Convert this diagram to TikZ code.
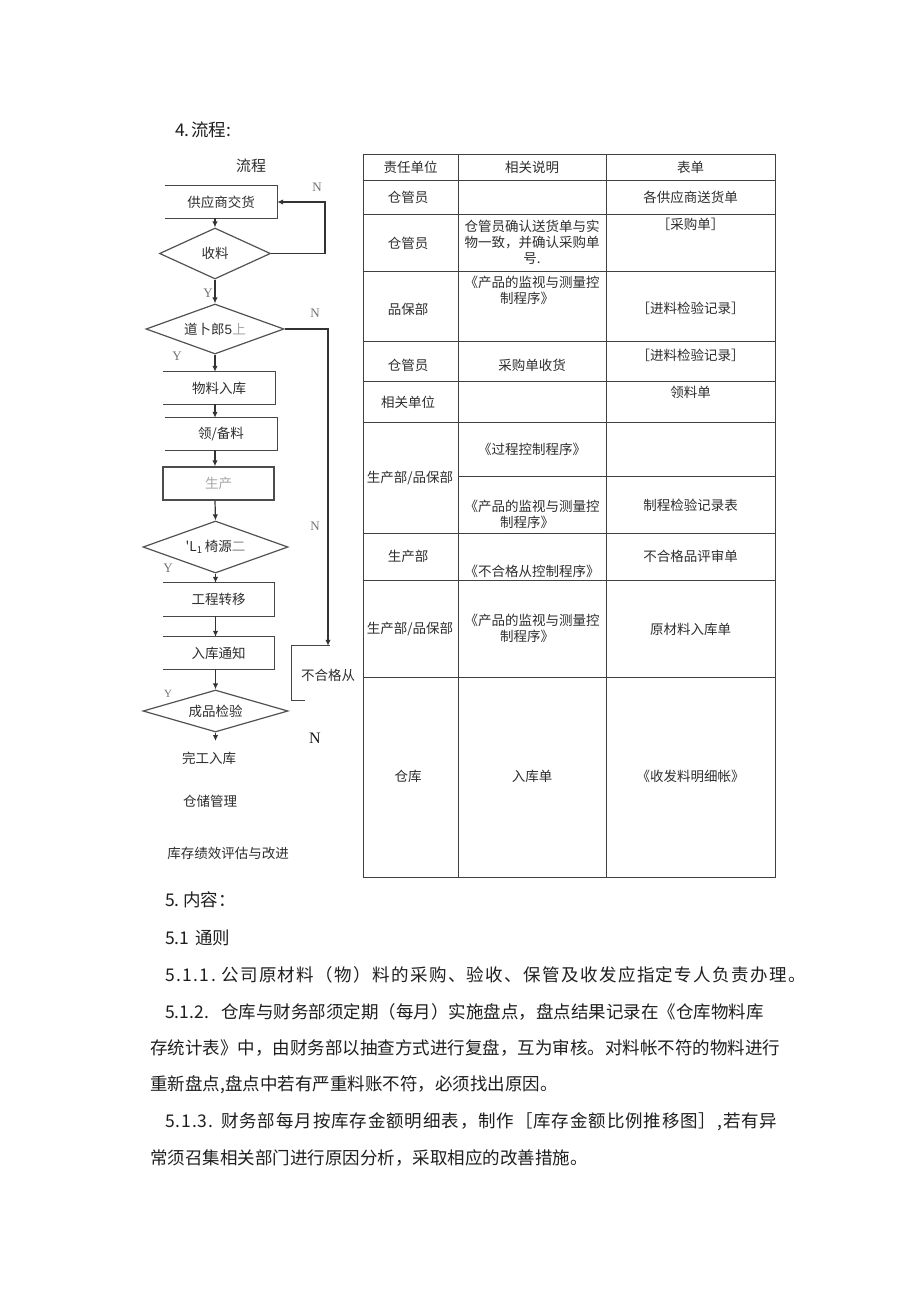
\documentclass[tikz,border=0pt]{standalone}
\usepackage{fontspec}
\setmainfont{Liberation Serif}
\newfontfamily\cjk{Noto Sans CJK SC}
\newfontfamily\cjkwide{Noto Sans CJK SC}[LetterSpace=8]
\newfontfamily\cjkwider{Noto Sans CJK SC}[LetterSpace=5]
\usetikzlibrary{arrows.meta,shapes.geometric}
\newcommand\pfx[2]{\makebox[#1][l]{#2}}
\begin{document}
\begin{tikzpicture}[x=1pt,y=-1pt,
  ln/.style={draw=black!72, line width=1.2pt},
  arr/.style={draw=black!80, line width=1.2pt, -{Latex[length=6pt,width=5.5pt]}},
  lbl/.style={font=\cjk\fontsize{13.5}{16}\selectfont, text=black!82, inner sep=0pt},
  boxn/.style={lbl, minimum width=112pt, minimum height=32pt},
  dia/.style={lbl, shape=diamond, draw=black!68, line width=1.2pt},
  yn/.style={font=\fontsize{13}{14}\selectfont, text=black!55, inner sep=0pt},
  tl/.style={draw=black!75, line width=0.9pt},
  tt/.style={font=\cjk\fontsize{13.5}{16}\selectfont, text=black!82, inner sep=0pt},
  body/.style={anchor=west, inner sep=0pt, font=\cjk\fontsize{17.5}{20}\selectfont, text=black!88}]
\path[fill=white] (0,0) rectangle (920,1301);
\useasboundingbox (0,0) rectangle (920,1301);

% heading
\node[body] (h4) at (175,130) {\pfx{16pt}{4.}流程:};

% ---------- flowchart ----------
\node[lbl, font=\cjk\fontsize{15}{17}\selectfont] (t0) at (251,166) {流程};
\node[boxn] (b1) at (221,202) {供应商交货};
\node[dia, shape aspect=2.2, minimum width=111pt, minimum height=51pt] (d1) at (215,253.5) {收料};
\node[dia, shape aspect=2.76, minimum width=138pt, minimum height=50pt] (d2) at (215,329) {道卜郎{\fontspec{Liberation Sans}5}{\color{black!35}上}};
\node[boxn] (b2) at (219,388) {物料入库};
\node[boxn] (b3) at (221,434) {领/备料};
\node[boxn, minimum width=111pt, minimum height=33pt, draw=black!70, line width=1.4pt, text=black!35] (b4) at (218.5,483.5) {生产};
\node[dia, shape aspect=2.8, minimum width=145pt, minimum height=52pt] (d3) at (215.5,547) {'L\textsubscript{1}\,椅源{\color{black!45}二}};
\node[boxn, minimum width=111pt, minimum height=33pt] (b5) at (218.5,599.5) {工程转移};
\node[boxn, minimum width=111pt] (b6) at (218.5,653) {入库通知};
\node[dia, shape aspect=3.45, minimum width=145pt, minimum height=42pt] (d4) at (215.5,711) {成品检验};
\coordinate (e4) at (215.5,741);
\node[lbl] (w1) at (209,758) {完工入库};
\node[lbl] (w2) at (210,801) {仓储管理};
\node[lbl] (w3) at (228,853) {库存绩效评估与改进};

% open boxes (top, right, bottom)
\foreach \b in {b1,b2,b3,b5,b6}{
  \draw[ln] (\b.north west) -- (\b.north east) -- (\b.south east) -- (\b.south west);
}

% not-conforming bracket
\node[minimum width=38pt, minimum height=54pt, inner sep=0pt] (nfb) at (311,673) {};
\draw[ln] ([xshift=13pt]nfb.south west) -- (nfb.south west) -- (nfb.north west) -- (nfb.north east);
\node[lbl] (nft) at (328,675) {不合格从};

% main arrows
\draw[arr] (d1.north |- b1.south) -- (d1.north);
\draw[arr] (d1.south) -- (d2.north);
\draw[arr] (d2.south) -- (d2.south |- b2.north);
\draw[arr] (d2.south |- b2.south) -- (d2.south |- b3.north);
\draw[arr] (d2.south |- b3.south) -- (d2.south |- b4.north);
\draw[arr] (d2.south |- b4.south) -- (d3.north);
\draw[arr] (d3.south) -- (d3.south |- b5.north);
\draw[arr] (d3.south |- b5.south) -- (d3.south |- b6.north);
\draw[arr] (d3.south |- b6.south) -- (d4.north);
\draw[arr] (d4.south) -- (e4);

% N loops
\coordinate (r1) at (325,228);
\draw[arr] (d1.east) -- (d1.east -| r1) -- (r1 |- b1.east) -- (b1.east);
\coordinate (r2) at (328,329);
\draw[arr] (d2.east) -- (d2.east -| r2) -- (r2 |- nfb.north);

% Y / N labels
\node[yn] (n1) at (317,187) {N};
\node[yn] (n2) at (315,313) {N};
\node[yn] (n3) at (315,526) {N};
\node[yn, font=\fontsize{16}{18}\selectfont, text=black!90] (n4) at (315,738) {N};
\node[yn] (y1) at (208,293) {Y};
\node[yn] (y2) at (177,356) {Y};
\node[yn] (y3) at (168,568) {Y};
\node[yn, font=\fontsize{11}{12}\selectfont] (y4) at (168,694) {Y};

% ---------- table ----------
\draw[tl] (363,154) rectangle (775,877);
\draw[tl] (458,154) -- (458,877);
\draw[tl] (606,154) -- (606,877);
\foreach \yy in {180,214,271,341,381,422,533,580,677}{
  \draw[tl] (363,\yy) -- (775,\yy);
}
\draw[tl] (458,476) -- (775,476);

\node[tt] (h1) at (410.5,167) {责任单位};
\node[tt] (h2) at (532,167) {相关说明};
\node[tt] (h3) at (690.5,167) {表单};

\node[tt] (a1) at (408,197) {仓管员};
\node[tt] (c1) at (690.5,197) {各供应商送货单};

\node[tt] (a2) at (408,243) {仓管员};
\node[tt, align=center, font=\cjk\fontsize{13.5}{16}\selectfont] (b2t) at (532,242) {仓管员确认送货单与实\\物一致，并确认采购单\\号.};
\node[tt] (c2) at (690.5,224) {［采购单］};

\node[tt] (a3) at (408,309) {品保部};
\node[tt] (b3a) at (532,282) {《产品的监视与测量控};
\node[tt] (b3b) at (527,298) {制程序》};
\node[tt] (c3) at (690.5,308) {［进料检验记录］};

\node[tt] (a4) at (408,365) {仓管员};
\node[tt] (b4t) at (532,365) {采购单收货};
\node[tt] (c4) at (690.5,355) {［进料检验记录］};

\node[tt] (a5) at (408,402) {相关单位};
\node[tt] (c5) at (690.5,392) {领料单};

\node[tt] (a6) at (410,478) {生产部/品保部};
\node[tt] (b6a) at (532,449) {《过程控制程序》};
\node[tt] (b6b) at (532,506) {《产品的监视与测量控};
\node[tt] (b6c) at (527,522) {制程序》};
\node[tt] (c6) at (690.5,505) {制程检验记录表};

\node[tt] (a7) at (408,556) {生产部};
\node[tt] (b7) at (532,571) {《不合格从控制程序》};
\node[tt] (c7) at (690.5,556) {不合格品评审单};

\node[tt] (a8) at (410,629) {生产部/品保部};
\node[tt] (b8a) at (532,620) {《产品的监视与测量控};
\node[tt] (b8b) at (527,636) {制程序》};
\node[tt] (c8) at (690.5,629) {原材料入库单};

\node[tt] (a9) at (408,776) {仓库};
\node[tt] (b9) at (532,776) {入库单};
\node[tt] (c9) at (690.5,776) {《收发料明细帐》};

% ---------- body text ----------
\node[body] (p1) at (165,900) {\pfx{18pt}{5.}内容：};
\node[body] (p2) at (165,938) {\pfx{30pt}{5.1}通则};
\node[body, font=\cjkwide\fontsize{17.5}{20}\selectfont] (p3) at (165,975) {\pfx{56pt}{5.1.1.}公司原材料（物）料的采购、验收、保管及收发应指定专人负责办理。};
\node[body] (p4) at (165,1012) {\pfx{56pt}{5.1.2.}仓库与财务部须定期（每月）实施盘点，盘点结果记录在《仓库物料库};
\node[body] (p5) at (150,1048) {存统计表》中，由财务部以抽查方式进行复盘，互为审核。对料帐不符的物料进行};
\node[body] (p6) at (150,1085) {重新盘点,盘点中若有严重料账不符，必须找出原因。};
\node[body, font=\cjkwider\fontsize{17.5}{20}\selectfont] (p7) at (165,1122) {\pfx{56pt}{5.1.3.}财务部每月按库存金额明细表，制作［库存金额比例推移图］,若有异};
\node[body] (p8) at (150,1158) {常须召集相关部门进行原因分析，采取相应的改善措施。};
\end{tikzpicture}
\end{document}
